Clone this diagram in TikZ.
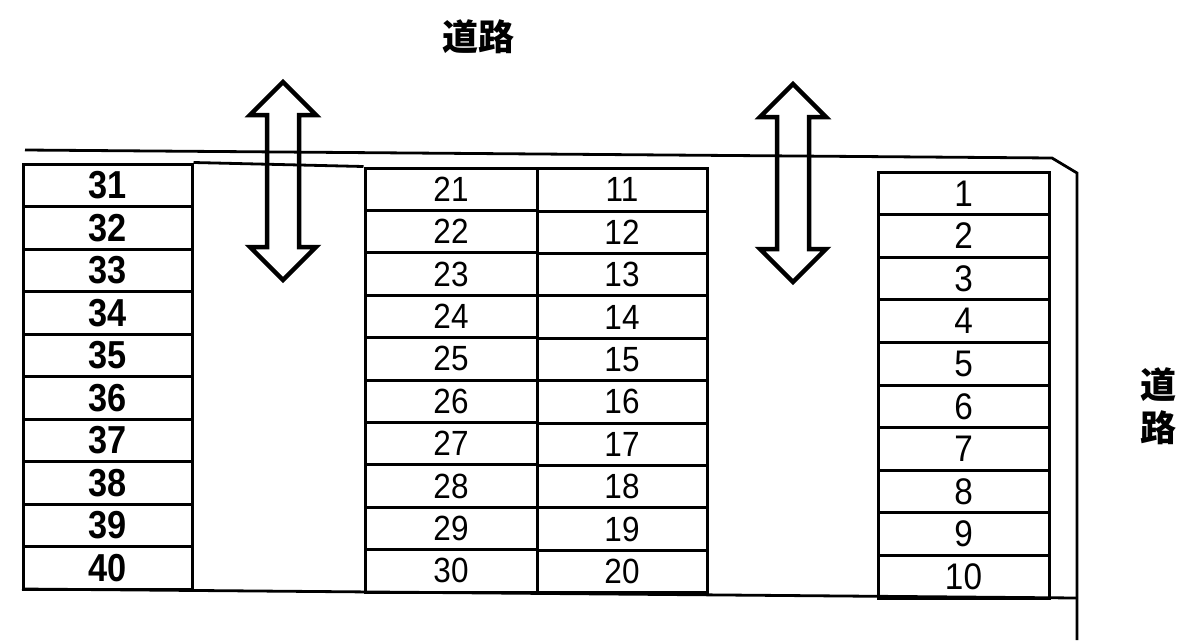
\documentclass[tikz,border=0pt]{standalone}
\usepackage{fontspec}
\setmainfont{Liberation Sans}
\newfontfamily\cjk{Noto Sans CJK JP}
\begin{document}
\begin{tikzpicture}[x=1pt,y=-1pt,
  cellbox/.style={draw, line width=3pt, inner sep=0pt, minimum height=42.5pt},
  numL/.style={font=\fontsize{39}{39}\selectfont\bfseries},
  numM/.style={font=\fontsize{35}{35}\selectfont},
  numR/.style={font=\fontsize{37}{37}\selectfont},
  road/.style={line width=2.8pt, line join=miter},
  dblarrow/.style={line width=4.5pt, line join=miter, miter limit=10},
  roadlabel/.style={font=\fontsize{36}{36}\selectfont\cjk\bfseries, inner sep=0pt}
]
\useasboundingbox (0,0) rectangle (1201,643);
% road outline
\coordinate (r1) at (25,150);
\coordinate (r2) at (1052,158);
\coordinate (r3) at (1077,173);
\coordinate (r4) at (1077,640);
\coordinate (b1) at (22,589);
\coordinate (b2) at (1077,598);
\draw[road] (r1) -- (r2) -- (r3) -- (r4);
\draw[road] (b1) -- (b2);
% left column 31-40
\foreach \i in {0,...,9}{
  \pgfmathtruncatemacro\n{31+\i}
  \node[cellbox, numL, minimum width=169pt] (c\n) at (107.5,{164+42.5*(\i+0.5)}) {\scalebox{0.88}[1]{\n}};
}
% middle columns 21-30 and 11-20
\foreach \i in {0,...,9}{
  \pgfmathtruncatemacro\n{21+\i}
  \pgfmathtruncatemacro\m{11+\i}
  \node[cellbox, numM, minimum width=172pt, minimum height=42.4pt] (c\n) at (451,{168+42.4*(\i+0.5)}) {\scalebox{0.9}[1]{\n}};
  \node[cellbox, numM, minimum width=170pt, minimum height=42.4pt] (c\m) at (622,{168.6+42.4*(\i+0.5)}) {\scalebox{0.9}[1]{\m}};
}
% right column 1-10
\foreach \i in {0,...,9}{
  \pgfmathtruncatemacro\n{1+\i}
  \node[cellbox, numR, minimum width=171pt, minimum height=42.6pt] (c\n) at (963.5,{172+42.6*(\i+0.5)}) {\scalebox{0.9}[1]{\n}};
}
% line across the gap between left and middle blocks
\draw[road] (c31.north east) -- (c21.north west);
% double arrows
\foreach \cx/\ty/\by/\nm in {283/82/280/aL, 793/84/282/aR}{
  \coordinate (\nm top) at (\cx,\ty);
  \coordinate (\nm bot) at (\cx,\by);
  \draw[dblarrow] (\nm top) -- ++(33,33) -- ++(-17,0) -- (\cx+16,\by-33) -- ++(17,0) -- (\nm bot)
     -- (\cx-33,\by-33) -- ++(17,0) -- (\cx-16,\ty+33) -- ++(-17,0) -- cycle;
}
% road labels
\node[roadlabel] (roadtop) at (478,37) {道路};
\node[roadlabel] (roadright1) at (1158,385) {道};
\node[roadlabel] (roadright2) at (1158,428) {路};
\end{tikzpicture}
\end{document}
